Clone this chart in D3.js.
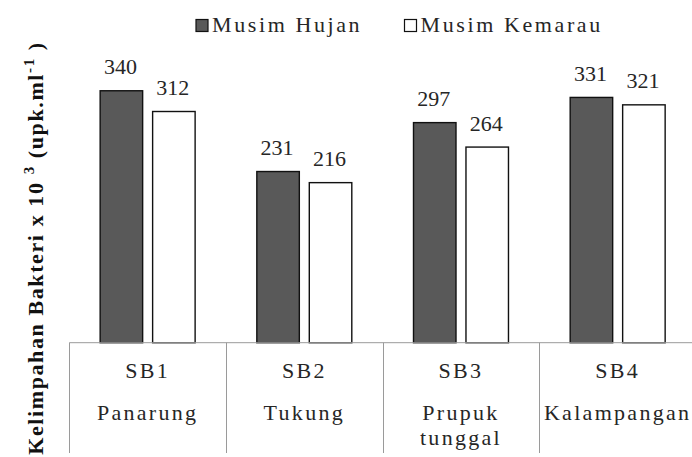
<!DOCTYPE html>
<head>
  <meta charset="utf-8">
  <title>Kelimpahan Bakteri</title>
  <script src="https://d3js.org/d3.v7.min.js"></script>
  <style type="text/css">
    body { margin: 0; background: #fff; }
    svg { display: block; }
    text { font-family: "Liberation Serif", "Times New Roman", serif; }
    .bar { stroke: #111; stroke-width: 1.4px; }
    .table-line { stroke: #9a9a9a; stroke-width: 1px; fill: none; }
    .value { font-size: 22px; text-anchor: middle; fill: #262626; }
    .cat { font-size: 22px; letter-spacing: 2.3px; text-anchor: middle; fill: #262626; }
    .legend text { font-size: 22px; letter-spacing: 2.6px; fill: #262626; }
    .y-title { font-size: 22px; font-weight: bold; letter-spacing: 1.6px; fill: #111; }
  </style>
</head>
<body>
  <div id="chart"></div>
<script>
// ---- data ----
const sites = ["SB1", "SB2", "SB3", "SB4"];
const siteNames = [["Panarung"], ["Tukung"], ["Prupuk", "tunggal"], ["Kalampangan"]];
const seriesNames = ["Musim Hujan", "Musim Kemarau"];
const hujanValues = [340, 231, 297, 331];
const kemarauValues = [312, 216, 264, 321];

const seriesValues = [hujanValues, kemarauValues];
const seriesFill = ["#595959", "#ffffff"];

const width = 692, height = 457;

const svg = d3.select("#chart").append("svg")
    .attr("width", width)
    .attr("height", height);

// x: one band per site, the two bars inside each band
const x0 = d3.scaleBand()
    .domain(sites)
    .range([69.3, 696])
    .padding(0);

const x1 = d3.scaleBand()
    .domain(seriesNames)
    .range([0, x0.bandwidth()])
    .paddingInner(0.19)
    .paddingOuter(0.588);

const y = d3.scaleLinear()
    .domain([0, 400])
    .range([342.7, 46.3]);

// bars
const groups = svg.selectAll(".site")
    .data(sites)
  .enter().append("g")
    .attr("class", "site")
    .attr("transform", d => "translate(" + x0(d) + ",0)");

groups.selectAll("rect")
    .data((d, i) => seriesNames.map((s, j) => ({ s: s, j: j, v: seriesValues[j][i] })))
  .enter().append("rect")
    .attr("class", "bar")
    .attr("x", d => x1(d.s))
    .attr("y", d => y(d.v))
    .attr("width", x1.bandwidth())
    .attr("height", d => y(0) - y(d.v))
    .attr("fill", d => seriesFill[d.j]);

// value labels
groups.selectAll(".value")
    .data((d, i) => seriesNames.map((s, j) => ({ s: s, v: seriesValues[j][i] })))
  .enter().append("text")
    .attr("class", "value")
    .attr("x", d => x1(d.s) + x1.bandwidth() / 2 - 1)
    .attr("y", d => y(d.v) - 16.5)
    .text(d => d.v);

// table under the axis
svg.append("line")
    .attr("class", "table-line")
    .attr("x1", x0.range()[0]).attr("x2", width)
    .attr("y1", y(0)).attr("y2", y(0));

svg.selectAll(".divider")
    .data(sites)
  .enter().append("line")
    .attr("class", "table-line")
    .attr("x1", d => Math.round(x0(d)) + 0.5)
    .attr("x2", d => Math.round(x0(d)) + 0.5)
    .attr("y1", y(0))
    .attr("y2", 453);

groups.append("text")
    .attr("class", "cat")
    .attr("x", x0.bandwidth() / 2)
    .attr("y", 378)
    .text(d => d);

groups.each(function(d, i) {
  const g = d3.select(this);
  siteNames[i].forEach((name, k) => {
    g.append("text")
      .attr("class", "cat")
      .attr("x", x0.bandwidth() / 2)
      .attr("y", 419.5 + k * 25)
      .text(name);
  });
});

// legend
const legendX = [196, 404.5];
const legend = svg.append("g").attr("class", "legend");
seriesNames.forEach((s, j) => {
  legend.append("rect")
    .attr("x", legendX[j])
    .attr("y", 19.5)
    .attr("width", 12)
    .attr("height", 12)
    .attr("fill", seriesFill[j])
    .attr("stroke", "#111")
    .attr("stroke-width", 1.2);
  legend.append("text")
    .attr("x", legendX[j] + 16)
    .attr("y", 31.5)
    .text(s);
});

// y title
const title = svg.append("text")
    .attr("class", "y-title")
    .attr("text-anchor", "middle")
    .attr("transform", "translate(43,248) rotate(-90)");
title.append("tspan").text("Kelimpahan  Bakteri  x  10 ");
title.append("tspan").attr("dy", -9).attr("font-size", 15).text("3");
title.append("tspan").attr("dy", 9).text(" (upk.ml");
title.append("tspan").attr("dy", -9).attr("font-size", 15).text("-1");
title.append("tspan").attr("dy", 9).text(" )");
</script>
</body>
